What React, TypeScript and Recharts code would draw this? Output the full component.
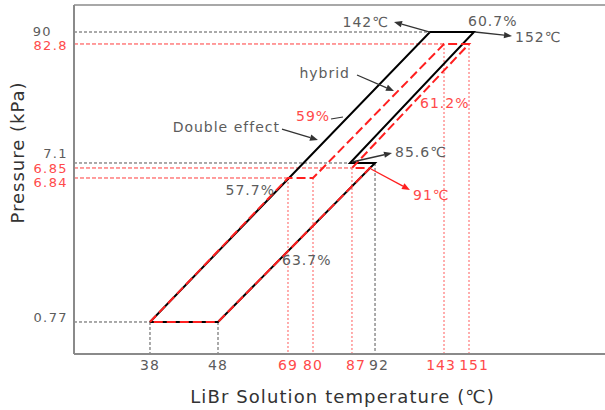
import React from 'react';
import { ComposedChart, Line, XAxis, YAxis, ReferenceLine, ReferenceDot } from 'recharts';

// ---------- data ----------
const temperatureTicks = [38, 48, 69, 80, 87, 92, 143, 151];
const pressureTicks = [0.77, 6.84, 6.85, 7.1, 82.8, 90];
const hybridTemperatureTicks = [69, 80, 87, 143, 151];
const hybridPressureTicks = [82.8, 6.85, 6.84];

const doubleEffectCycle = [
  { t: 38, p: 0.77 },
  { t: 142, p: 90 },
  { t: 152, p: 90 },
  { t: 85.6, p: 7.1 },
  { t: 92, p: 7.1 },
  { t: 48, p: 0.77 },
  { t: 38, p: 0.77 },
];

const hybridCycle = [
  { t: 38, p: 0.77 },
  { t: 69, p: 6.84 },
  { t: 80, p: 6.84 },
  { t: 143, p: 82.8 },
  { t: 151, p: 82.8 },
  { t: 87, p: 6.85 },
  { t: 91, p: 6.85 },
  { t: 48, p: 0.77 },
  { t: 38, p: 0.77 },
];

// guide lines: horizontal (pressure level up to temperature) and vertical (temperature down from pressure)
const doubleEffectHGuides = [
  { t: 142, p: 90 },
  { t: 85.6, p: 7.1 },
  { t: 38, p: 0.77 },
];
const doubleEffectVGuides = [
  { t: 38, p: 0.77 },
  { t: 48, p: 0.77 },
  { t: 92, p: 7.1 },
];
const hybridHGuides = [
  { t: 143, p: 82.8 },
  { t: 87, p: 6.85 },
  { t: 69, p: 6.84 },
];
const hybridVGuides = [
  { t: 69, p: 6.84 },
  { t: 80, p: 6.84 },
  { t: 87, p: 6.85 },
  { t: 143, p: 82.8 },
  { t: 151, p: 82.8 },
];

const T_MIN = 20;
const T_MAX = 200;
const P_MIN = 0.5;
const P_MAX = 100;

// ---------- styles ----------
const GRAY_TEXT = '#5c5c5c';
const RED_TEXT = '#ff4a4a';
const RED = '#ff1f1f';
const FONT = '"DejaVu Sans", sans-serif';

// annotations: text + anchor state point, layout offsets in px
const annotations: any[] = [
  { text: '142℃', t: 142, p: 90, red: false, arrow: [0, 0, -36, -10], tx: -41, ty: -10, anchor: 'end' },
  { text: '60.7%', t: 152, p: 90, red: false, tx: -6, ty: -11, anchor: 'start' },
  { text: '152℃', t: 152, p: 90, red: false, arrow: [1, 0, 38, 4], tx: 41, ty: 5, anchor: 'start' },
  { text: 'hybrid', t: 143, p: 82.8, red: false, arrow: [-87, 31, -50, 47], tx: -94, ty: 29, anchor: 'end' },
  { text: '59%', t: 143, p: 82.8, red: true, leader: [-113, 75, -101, 73], tx: -148, ty: 72, anchor: 'start' },
  { text: '61.2%', t: 151, p: 82.8, red: true, tx: -49, ty: 59, anchor: 'start' },
  { text: 'Double effect', t: 142, p: 90, red: false, arrow: [-148, 97, -112, 108], tx: -150, ty: 95, anchor: 'end' },
  { text: '85.6℃', t: 85.6, p: 7.1, red: false, arrow: [2, -1, 42, -10], tx: 45, ty: -11, anchor: 'start' },
  { text: '91℃', t: 91, p: 6.85, red: true, arrow: [1, 1, 40, 22], tx: 43, ty: 27, anchor: 'start' },
  { text: '57.7%', t: 69, p: 6.84, red: false, tx: -13, ty: 12, anchor: 'end' },
  { text: '63.7%', t: 48, p: 0.77, red: false, tx: 64, ty: -62, anchor: 'start' },
];

// ---------- schematic (piecewise) scales ----------
const temperatureKnots: [number, number][] = [
  [T_MIN, 0], [38, 0.1431], [48, 0.2712], [69, 0.403], [80, 0.4501], [85.6, 0.5198],
  [87, 0.5235], [91, 0.5574], [92, 0.5669], [142, 0.6704], [143, 0.6968], [151, 0.7439],
  [152, 0.7533], [T_MAX, 1],
];
const pressureKnots: [number, number][] = [
  [P_MIN, 0], [0.77, 0.0917], [6.84, 0.5043], [6.85, 0.533], [7.1, 0.5473],
  [82.8, 0.8883], [90, 0.9226], [P_MAX, 1],
];

function piecewiseScale(knots: [number, number][]) {
  const frac = (v: number) => {
    const n = knots.length;
    let i = 0;
    if (v <= knots[0][0]) i = 0;
    else if (v >= knots[n - 1][0]) i = n - 2;
    else {
      while (i < n - 2 && v > knots[i + 1][0]) i++;
    }
    const [a, fa] = knots[i];
    const [b, fb] = knots[i + 1];
    return fa + ((v - a) / (b - a)) * (fb - fa);
  };
  const make = (dom: any[], rng: number[]): any => {
    const f: any = (v: any) => {
      const x = Number(v);
      if (!isFinite(x)) return NaN;
      return rng[0] + frac(x) * (rng[rng.length - 1] - rng[0]);
    };
    f.domain = (d?: any[]) => {
      if (d === undefined) return dom;
      dom = d.slice();
      return f;
    };
    f.range = (r?: number[]) => {
      if (r === undefined) return rng;
      rng = r.slice();
      return f;
    };
    f.copy = () => make(dom.slice(), rng.slice());
    f.ticks = () => knots.map((k) => k[0]);
    return f;
  };
  return make([knots[0][0], knots[knots.length - 1][0]], [0, 1]);
}

const temperatureScale = piecewiseScale(temperatureKnots);
const pressureScale = piecewiseScale(pressureKnots);

// ---------- components ----------
const textStyle = { fontFamily: FONT, fontSize: 14, letterSpacing: 1 } as React.CSSProperties;
const yTickStyle = { fontFamily: FONT, fontSize: 13, letterSpacing: 1.4 } as React.CSSProperties;

const Arrow = ({ x1, y1, x2, y2, color }: any) => {
  const ang = Math.atan2(y2 - y1, x2 - x1);
  const L = 8;
  const W = 3.2;
  const bx = x2 - L * Math.cos(ang);
  const by = y2 - L * Math.sin(ang);
  const px = -Math.sin(ang) * W;
  const py = Math.cos(ang) * W;
  return (
    <g>
      <line x1={x1} y1={y1} x2={bx} y2={by} stroke={color} strokeWidth={1.3} />
      <polygon points={`${x2},${y2} ${bx + px},${by + py} ${bx - px},${by - py}`} fill={color} />
    </g>
  );
};

const Annotation = ({ cx, cy, a }: any) => {
  const color = a.red ? RED_TEXT : GRAY_TEXT;
  const arrowColor = a.red ? RED : '#333';
  return (
    <g>
      {a.arrow && (
        <Arrow x1={cx + a.arrow[0]} y1={cy + a.arrow[1]} x2={cx + a.arrow[2]} y2={cy + a.arrow[3]} color={arrowColor} />
      )}
      {a.leader && (
        <line x1={cx + a.leader[0]} y1={cy + a.leader[1]} x2={cx + a.leader[2]} y2={cy + a.leader[3]} stroke="#333" strokeWidth={1.2} />
      )}
      <text x={cx + a.tx} y={cy + a.ty} textAnchor={a.anchor} dominantBaseline="central" fill={color} style={textStyle}>
        {a.text}
      </text>
    </g>
  );
};

const xTickShift: Record<number, number> = { 87: 4, 92: 4, 143: -3, 151: 5 };
const XTick = (props: any) => {
  const v = props.payload.value;
  const red = hybridTemperatureTicks.includes(v);
  return (
    <text x={props.x + (xTickShift[v] ?? 0)} y={props.y} textAnchor="middle" dominantBaseline="central" fill={red ? RED_TEXT : GRAY_TEXT} style={textStyle}>
      {v}
    </text>
  );
};

const yTickShift: Record<string, [number, number]> = {
  '90': [-16, -1],
  '82.8': [0, 2],
  '7.1': [0, -9],
  '6.85': [0, 1],
  '6.84': [0, 5],
  '0.77': [0, -4],
};
const YTick = (props: any) => {
  const v = props.payload.value;
  const red = hybridPressureTicks.includes(v);
  const s = yTickShift[String(v)] ?? [0, 0];
  return (
    <text x={props.x + s[0]} y={props.y + s[1]} textAnchor="end" dominantBaseline="central" fill={red ? RED_TEXT : GRAY_TEXT} style={yTickStyle}>
      {v}
    </text>
  );
};

const XTitle = (props: any) => {
  const vb = props.viewBox || { x: 74, y: 354, width: 531, height: 56 };
  return (
    <text x={vb.x + vb.width / 2 + 3} y={vb.y + vb.height - 7} textAnchor="middle" fill="#333" style={{ fontFamily: FONT, fontSize: 18, letterSpacing: 1.1 }}>
      LiBr Solution temperature (℃)
    </text>
  );
};

const YTitle = (props: any) => {
  const vb = props.viewBox || { x: 0, y: 5, width: 74, height: 349 };
  const cx = vb.x + 17;
  const cy = vb.y + vb.height / 2 - 27;
  return (
    <text x={cx} y={cy} transform={`rotate(-90, ${cx}, ${cy})`} textAnchor="middle" dominantBaseline="central" fill="#333" style={{ fontFamily: FONT, fontSize: 18, letterSpacing: 1 }}>
      Pressure (kPa)
    </text>
  );
};

export default function App() {
  return (
    <div style={{ position: 'absolute', left: 0, top: 0, width: 605, height: 410, background: '#fff' }}>
      <ComposedChart width={605} height={410} margin={{ top: 5, right: 0, bottom: 0, left: 0 }}>
        <XAxis
          dataKey="t"
          type="number"
          scale={temperatureScale}
          domain={[T_MIN, T_MAX]}
          allowDataOverflow
          ticks={temperatureTicks}
          interval={0}
          height={56}
          tickLine={false}
          tickSize={0}
          tickMargin={11}
          tick={<XTick />}
          axisLine={{ stroke: '#8a8a8a', strokeWidth: 2 }}
          label={{ content: <XTitle /> }}
        />
        <YAxis
          dataKey="p"
          type="number"
          scale={pressureScale}
          domain={[P_MIN, P_MAX]}
          allowDataOverflow
          ticks={pressureTicks}
          interval={0}
          width={74}
          tickLine={false}
          tickSize={0}
          tickMargin={6}
          tick={<YTick />}
          axisLine={{ stroke: '#8a8a8a', strokeWidth: 2 }}
          label={{ content: <YTitle /> }}
        />

        <ReferenceLine y={P_MAX} stroke="#a8a8a8" strokeWidth={2} ifOverflow="visible" />

        {doubleEffectHGuides.map((g, i) => (
          <ReferenceLine key={`dh${i}`} segment={[{ x: T_MIN, y: g.p }, { x: g.t, y: g.p }]} stroke="#555" strokeWidth={1} strokeDasharray="3 2" ifOverflow="visible" />
        ))}
        {doubleEffectVGuides.map((g, i) => (
          <ReferenceLine key={`dv${i}`} segment={[{ x: g.t, y: g.p }, { x: g.t, y: P_MIN }]} stroke="#555" strokeWidth={1} strokeDasharray="3 2" ifOverflow="visible" />
        ))}
        {hybridHGuides.map((g, i) => (
          <ReferenceLine key={`hh${i}`} segment={[{ x: T_MIN, y: g.p }, { x: g.t, y: g.p }]} stroke="#ff3b3b" strokeWidth={1} strokeDasharray="4 2" ifOverflow="visible" />
        ))}
        {hybridVGuides.map((g, i) => (
          <ReferenceLine key={`hv${i}`} segment={[{ x: g.t, y: g.p }, { x: g.t, y: P_MIN }]} stroke="#ff5a5a" strokeWidth={1} strokeDasharray="2 2" ifOverflow="visible" />
        ))}

        <Line
          data={doubleEffectCycle}
          dataKey="p"
          type="linear"
          stroke="#000"
          strokeWidth={2}
          dot={false}
          activeDot={false}
          isAnimationActive={false}
        />
        <Line
          data={hybridCycle}
          dataKey="p"
          type="linear"
          stroke={RED}
          strokeWidth={2}
          strokeDasharray="9 4"
          dot={false}
          activeDot={false}
          isAnimationActive={false}
        />

        {annotations.map((a, i) => (
          <ReferenceDot
            key={`a${i}`}
            x={a.t}
            y={a.p}
            r={1}
            ifOverflow="visible"
            shape={(props: any) => <Annotation cx={props.cx} cy={props.cy} a={a} />}
          />
        ))}
      </ComposedChart>
    </div>
  );
}
